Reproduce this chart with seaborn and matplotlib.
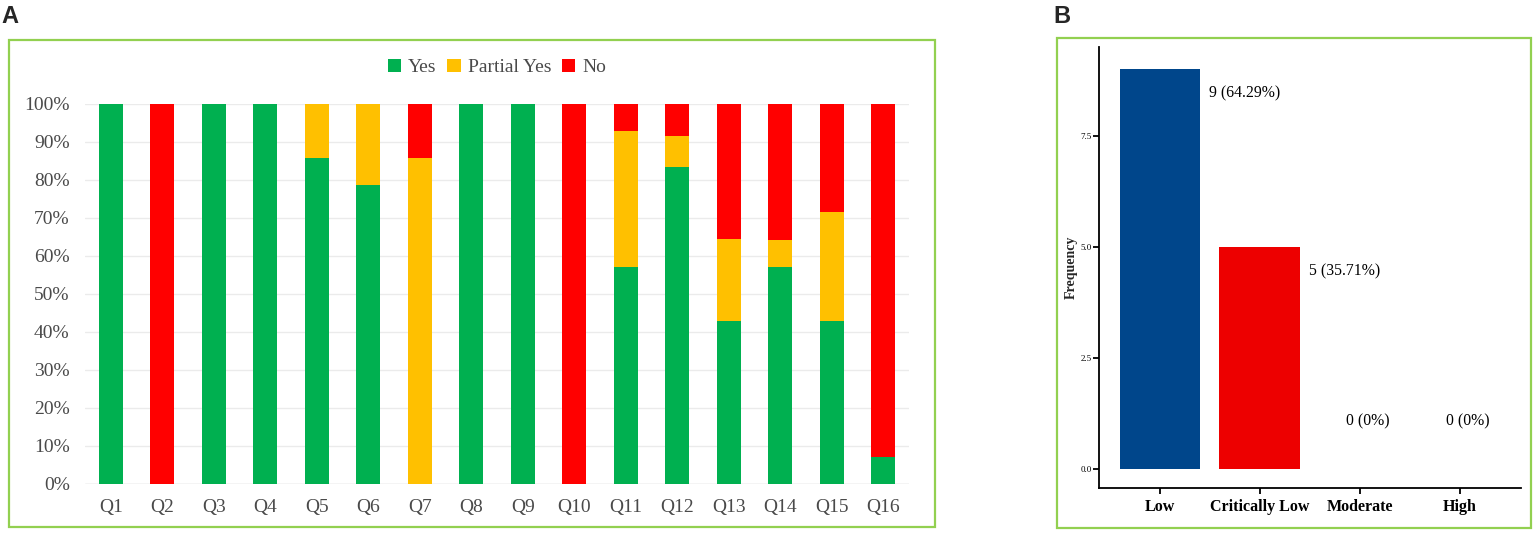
import matplotlib
matplotlib.use("Agg")
import matplotlib.pyplot as plt
from matplotlib.patches import Rectangle, Patch
import seaborn as sns
import numpy as np

# ---------------- data ----------------
questions = ["Q1", "Q2", "Q3", "Q4", "Q5", "Q6", "Q7", "Q8",
             "Q9", "Q10", "Q11", "Q12", "Q13", "Q14", "Q15", "Q16"]
yes_pct = [100, 0, 100, 100, 85.7, 78.6, 0, 100, 100, 0, 57.1, 83.3, 42.9, 57.1, 42.9, 7.1]
partial_pct = [0, 0, 0, 0, 14.3, 21.4, 85.7, 0, 0, 0, 35.7, 8.3, 21.4, 7.1, 28.6, 0]
no_pct = [0, 100, 0, 0, 0, 0, 14.3, 0, 0, 100, 7.1, 8.3, 35.7, 35.7, 28.6, 92.9]
series_names = ["Yes", "Partial Yes", "No"]
y_ticks_a = [0, 10, 20, 30, 40, 50, 60, 70, 80, 90, 100]

levels = ["Low", "Critically Low", "Moderate", "High"]
counts = [9, 5, 0, 0]
count_labels = ["9 (64.29%)", "5 (35.71%)", "0 (0%)", "0 (0%)"]
y_ticks_b = [0.0, 2.5, 5.0, 7.5]

# ---------------- style ----------------
GREEN, YELLOW, RED = "#00b050", "#ffc000", "#ff0000"
BLUE_B, RED_B = "#00468b", "#ed0000"
FRAME = "#92d050"

sns.set_theme(style="white")
plt.rcParams["font.family"] = ["Liberation Serif", "DejaVu Serif"]

fig = plt.figure(figsize=(15.36, 5.35), dpi=100)
fig.patch.set_facecolor("white")

# panel frames
fig.patches.append(Rectangle((0.00586, 0.015), 0.6029, 0.9103, transform=fig.transFigure,
                             fill=False, edgecolor=FRAME, linewidth=1.6))
fig.patches.append(Rectangle((0.6882, 0.0135), 0.3086, 0.9159, transform=fig.transFigure,
                             fill=False, edgecolor=FRAME, linewidth=1.6))
fig.text(0.001, 0.99, "A", fontsize=17, fontweight="bold", va="top", ha="left",
         family=["Liberation Sans", "DejaVu Sans"])
fig.text(0.6855, 0.99, "B", fontsize=17, fontweight="bold", va="top", ha="left",
         family=["Liberation Sans", "DejaVu Sans"])

# ---------------- panel A ----------------
axA = fig.add_axes([0.0553, 0.0959, 0.5365, 0.7103])
yes = np.array(yes_pct)
part = np.array(partial_pct)
no = np.array(no_pct)
total = yes + part + no
sns.barplot(x=questions, y=total, color=RED, saturation=1, width=0.46, ax=axA, linewidth=0)
sns.barplot(x=questions, y=yes + part, color=YELLOW, saturation=1, width=0.46, ax=axA, linewidth=0)
sns.barplot(x=questions, y=yes, color=GREEN, saturation=1, width=0.46, ax=axA, linewidth=0)
axA.set_xlim(-0.5, 15.5)
axA.set_ylim(0, 100)
axA.set_yticks(y_ticks_a)
axA.set_yticklabels([f"{t}%" for t in y_ticks_a])
axA.yaxis.grid(True, color="#ebebeb", linewidth=1)
axA.set_axisbelow(True)
for s in axA.spines.values():
    s.set_visible(False)
axA.axhline(0, color="#d9d9d9", linewidth=1, zorder=0)
axA.tick_params(axis="both", length=0, labelsize=14, colors="#4a4a4a")
axA.tick_params(axis="x", pad=11)
axA.tick_params(axis="y", pad=11)
axA.set_xlabel("")
axA.set_ylabel("")
handles = [Patch(facecolor=c, edgecolor="none") for c in (GREEN, YELLOW, RED)]
fig.legend(handles, series_names, loc="center", bbox_to_anchor=(0.3235, 0.874), ncol=3,
           frameon=False, fontsize=14, handlelength=0.7, handleheight=0.7,
           handletextpad=0.35, columnspacing=0.55, labelcolor="#4a4a4a")

# ---------------- panel B ----------------
axB = fig.add_axes([0.7155, 0.0879, 0.2747, 0.8243])
sns.barplot(x=levels, y=counts, hue=levels, palette=[BLUE_B, RED_B, "#42b540", "#0099b4"],
            saturation=1, width=0.81, legend=False, ax=axB, linewidth=0)
axB.set_xlim(-0.61, 3.61)
axB.set_ylim(-0.43, 9.5)
axB.set_yticks(y_ticks_b)
axB.set_yticklabels([f"{t:.1f}" for t in y_ticks_b])
for s in ("top", "right"):
    axB.spines[s].set_visible(False)
for s in ("left", "bottom"):
    axB.spines[s].set_color("black")
    axB.spines[s].set_linewidth(1.3)
axB.tick_params(axis="y", length=4, width=1.3, labelsize=6.5, colors="black", pad=1, left=True)
axB.tick_params(axis="x", length=4, width=1.3, labelsize=11.5, colors="black", pad=4, bottom=True)
for lbl in axB.get_xticklabels():
    lbl.set_fontweight("bold")
axB.set_xlabel("")
axB.set_ylabel("Frequency", fontsize=10, fontweight="bold", labelpad=2)
for i, (v, lab) in enumerate(zip(counts, count_labels)):
    if v > 0:
        axB.text(i + 0.49, v - 0.55, lab, ha="left", va="center", fontsize=11.3, color="black")
    else:
        axB.text(i + 0.08, 1.06, lab, ha="center", va="center", fontsize=11.3, color="black")

fig.savefig("out.png", dpi=100, facecolor="white")
